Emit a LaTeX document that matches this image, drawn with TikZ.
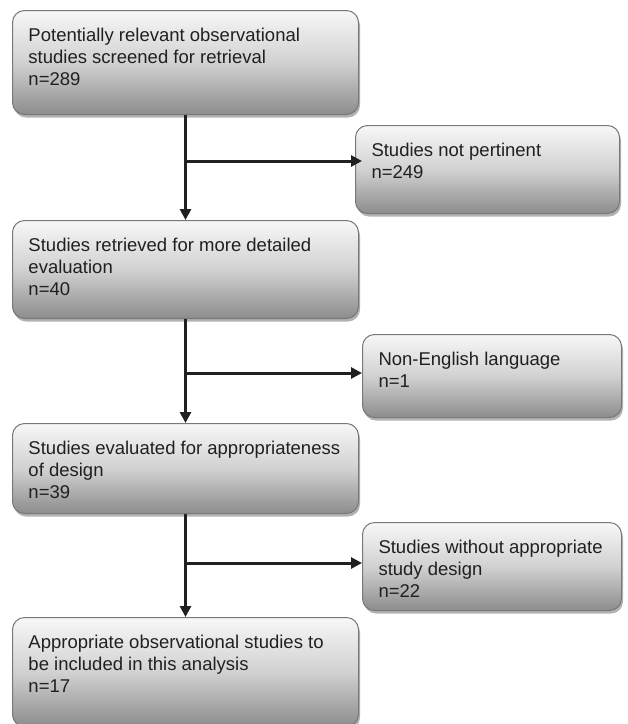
\documentclass[tikz,border=0pt]{standalone}
\usepackage{fontspec}
\setmainfont{Liberation Sans}
\usetikzlibrary{arrows.meta,shadows,calc}
\definecolor{ink}{RGB}{35,31,32}
\definecolor{edgegray}{RGB}{120,120,120}
\newcommand{\boxtext}[3]{\parbox[c][#2][t]{#1}{\raggedright\leftskip=16pt\fontsize{18.5}{22}\selectfont\vspace*{18pt}\rule{0pt}{13pt}#3}}
\tikzset{
  flowbox/.style={draw=edgegray, line width=1pt, rounded corners=12pt,
    top color=black!3, bottom color=black!45, middle color=black!18,
    inner sep=0pt, anchor=north west, text=ink,
    drop shadow={shadow xshift=1.5pt, shadow yshift=-3pt, fill=black, opacity=0.3}},
  flow/.style={line width=3pt, draw=ink, -{Triangle[length=11pt,width=11pt]}}
}
\begin{document}
\begin{tikzpicture}[x=1pt,y=-1pt]
\useasboundingbox (0,0) rectangle (628,724);
\clip (0,0) rectangle (628,724);
\node[flowbox] (b1) at (12,10) {\boxtext{346pt}{104pt}{Potentially relevant observational\\studies screened for retrieval\\n=289}};
\node[flowbox] (b2) at (355,125) {\boxtext{264pt}{88pt}{Studies not pertinent\\n=249}};
\node[flowbox] (b3) at (12,220) {\boxtext{346pt}{98pt}{Studies retrieved for more detailed\\evaluation\\n=40}};
\node[flowbox] (b4) at (362,334) {\boxtext{259pt}{83pt}{Non-English language\\n=1}};
\node[flowbox] (b5) at (12,423) {\boxtext{346pt}{90pt}{Studies evaluated for appropriateness\\of design\\n=39}};
\node[flowbox] (b6) at (362,522) {\boxtext{259pt}{88pt}{Studies without appropriate\\study design\\n=22}};
\node[flowbox] (b7) at (12,617) {\boxtext{346pt}{109pt}{Appropriate observational studies to\\be included in this analysis\\n=17}};
\coordinate (j1) at (185,161);
\coordinate (j2) at (185,373);
\coordinate (j3) at (185,563);
\draw[flow] (b1.south) -- (b3.north);
\draw[flow] (j1) -- ($(j1 -| b2.west)+(7,0)$);
\draw[flow] (b3.south) -- (b5.north);
\draw[flow] (j2) -- (j2 -| b4.west);
\draw[flow] (b5.south) -- (b7.north);
\draw[flow] (j3) -- (j3 -| b6.west);
\end{tikzpicture}
\end{document}
